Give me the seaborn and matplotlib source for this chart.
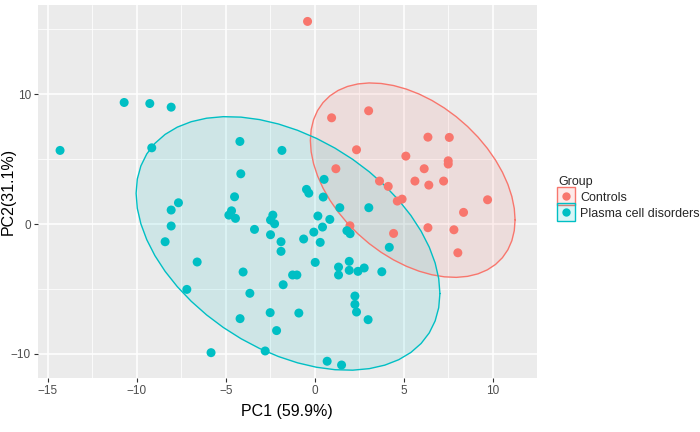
import numpy as np
import pandas as pd
import matplotlib
matplotlib.use("Agg")
import matplotlib.pyplot as plt
from matplotlib.patches import Polygon
from matplotlib.lines import Line2D
from matplotlib.legend_handler import HandlerTuple
import seaborn as sns

# PCA scores
pcd_pc1 = [-10.71, -9.27, -8.07, -14.31, -9.16, -4.21, -1.85, -4.16, -4.51, -7.66,
           -8.07, -4.68, -4.83, -4.46, -2.36, -2.49, -2.26, -8.07, -3.39, -2.49,
           -1.90, -8.41, -1.90, -6.61, -4.03, -1.78, -7.19, -3.65, -2.51, -4.20,
           -2.15, -5.83, -2.79, 0.52, -0.47, -0.34, 0.47, 1.40, 3.03, 0.17,
           0.84, -0.06, 0.43, 1.80, 1.98, -0.63, 0.30, 4.18, 0.02, 1.93,
           1.33, 1.93, 1.33, 2.42, 2.77, 3.76, -1.25, -1.01, 2.25, 2.25,
           2.34, 2.99, -0.90, 0.69, 1.50]
pcd_pc2 = [9.36, 9.28, 9.00, 5.67, 5.87, 6.36, 5.67, 3.87, 2.10, 1.64,
           1.08, 1.02, 0.69, 0.44, 0.69, 0.31, 0.02, -0.15, -0.41, -0.82,
           -1.36, -1.36, -2.10, -2.92, -3.69, -4.67, -5.03, -5.33, -6.82, -7.28,
           -8.20, -9.90, -9.77, 3.44, 2.67, 2.38, 2.08, 1.26, 1.26, 0.62,
           0.36, -0.62, -0.23, -0.51, -0.74, -1.15, -1.41, -1.79, -2.95, -2.87,
           -3.31, -3.56, -3.92, -3.64, -3.38, -3.67, -3.92, -3.92, -5.54, -6.18,
           -6.77, -7.36, -6.85, -10.56, -10.85]
ctrl_pc1 = [-0.41, 0.94, 3.02, 2.34, 6.35, 7.55, 5.11, 7.49, 7.49, 6.14,
            1.18, 3.63, 4.12, 5.62, 6.40, 7.23, 4.90, 4.63, 9.70, 8.35,
            1.97, 6.35, 7.81, 4.42, 8.03]
ctrl_pc2 = [15.60, 8.18, 8.72, 5.72, 6.69, 6.67, 5.23, 4.87, 4.62, 4.26,
            4.26, 3.31, 2.90, 3.31, 3.00, 3.31, 1.92, 1.77, 1.87, 0.90,
            -0.13, -0.28, -0.44, -0.72, -2.21]

groups = ["Controls", "Plasma cell disorders"]
palette = {"Controls": "#F8766D", "Plasma cell disorders": "#00BFC4"}

df = pd.DataFrame({
    "PC1": ctrl_pc1 + pcd_pc1,
    "PC2": ctrl_pc2 + pcd_pc2,
    "Group": ["Controls"] * len(ctrl_pc1) + ["Plasma cell disorders"] * len(pcd_pc1),
})


def cov_trob(x, nu=5, iters=50):
    """Multivariate t fit (like MASS::cov.trob)."""
    loc = x.mean(axis=0)
    cov = np.cov(x.T)
    for _ in range(iters):
        d = x - loc
        m = np.einsum("ij,jk,ik->i", d, np.linalg.inv(cov), d)
        w = (nu + 2) / (nu + m)
        loc = (w[:, None] * x).sum(axis=0) / w.sum()
        d = x - loc
        cov = (w[:, None] * d).T @ d / len(x)
    return loc, cov


# qf(0.95, 2, n - 1) for n = 25 and n = 65
f_quant = {"Controls": 3.403, "Plasma cell disorders": 3.140}


def ellipse_pts(x, fq, segments=51):
    loc, cov = cov_trob(x)
    chol = np.linalg.cholesky(cov).T
    radius = np.sqrt(2 * fq)
    t = np.linspace(0, 2 * np.pi, segments)
    unit = np.column_stack([np.cos(t), np.sin(t)])
    return loc + radius * unit @ chol


sns.set_style("darkgrid", {"axes.facecolor": "#EBEBEB", "grid.color": "white"})
plt.rcParams["font.family"] = ["Liberation Sans", "DejaVu Sans"]

fig = plt.figure(figsize=(7, 4.32), dpi=100)
ax = fig.add_axes([0.054, 0.125, 0.713, 0.863])

for g in groups:
    sub = df[df["Group"] == g][["PC1", "PC2"]].to_numpy()
    pts = ellipse_pts(sub, f_quant[g])
    ax.add_patch(Polygon(pts, closed=True, facecolor=palette[g], alpha=0.12,
                         edgecolor="none", zorder=1))
    ax.plot(pts[:, 0], pts[:, 1], color=palette[g], lw=1.0, zorder=2)

sns.scatterplot(data=df, x="PC1", y="PC2", hue="Group", palette=palette,
                s=42, edgecolor="none", linewidth=0, legend=False, ax=ax, zorder=3)

ax.set_xlim(-15.56, 12.47)
ax.set_ylim(-11.85, 16.85)
ax.set_xticks([-15, -10, -5, 0, 5, 10])
ax.set_yticks([-10, 0, 10])
ax.set_xticks([-12.5, -7.5, -2.5, 2.5, 7.5], minor=True)
ax.set_yticks([-5, 5, 15], minor=True)
ax.grid(which="major", color="white", lw=1.1)
ax.grid(which="minor", color="white", lw=0.55)
ax.tick_params(which="minor", length=0)
ax.tick_params(which="major", length=3, width=0.8, color="#333333",
               labelsize=8.5, labelcolor="#4D4D4D", pad=2, bottom=True, left=True)
for s in ax.spines.values():
    s.set_visible(False)
ax.set_xlabel("PC1 (59.9%)", fontsize=11.5, color="black", labelpad=5)
ax.set_ylabel("PC2(31.1%)", fontsize=11.5, color="black")
ax.yaxis.set_label_coords(-0.045, 0.5)

handles = [Line2D([0], [0], marker="s", linestyle="none", markersize=13,
                  markerfacecolor=matplotlib.colors.to_rgba(palette[g], 0.15),
                  markeredgecolor=palette[g], markeredgewidth=1.0)
           for g in groups]
dots = [Line2D([0], [0], marker="o", linestyle="none", markersize=6,
               markerfacecolor=palette[g], markeredgecolor="none") for g in groups]
leg = fig.legend(list(zip(handles, dots)), groups, title="Group",
                 loc="center left", bbox_to_anchor=(0.782, 0.542), frameon=False,
                 fontsize=9, title_fontsize=9, handlelength=1.2, handletextpad=0.5,
                 labelspacing=0.3, alignment="left",
                 handler_map={tuple: HandlerTuple(ndivide=None, pad=-1.2)})

fig.savefig("out.png", dpi=100)
